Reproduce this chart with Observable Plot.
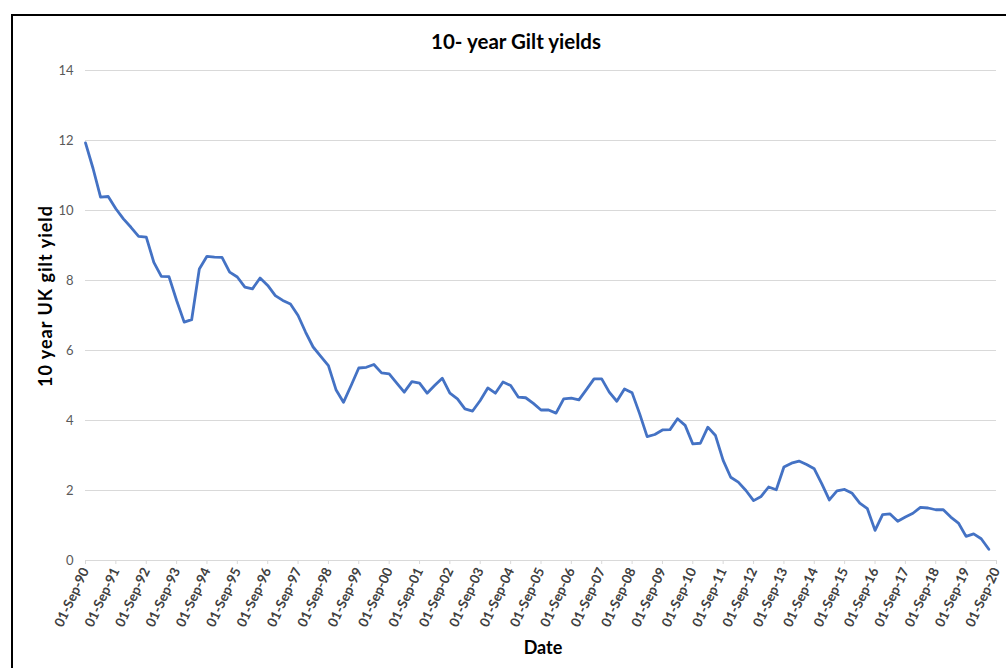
<!DOCTYPE html>
<html>
<head>
<meta charset="utf-8">
<script src="https://cdn.jsdelivr.net/npm/d3@7"></script>
<script src="https://cdn.jsdelivr.net/npm/@observablehq/plot@0.6"></script>
<style>
  html, body { margin: 0; padding: 0; background: #fff; }
  #page { position: relative; width: 1006px; height: 668px; overflow: hidden; font-family: Lato, "Open Sans", sans-serif; }
  #frame { position: absolute; left: 11px; top: 14px; width: 1100px; height: 700px;
           border-left: 2px solid #000; border-top: 2px solid #000; box-sizing: border-box; }
  #chart { position: absolute; left: 0; top: 0; }
  .title { position: absolute; left: 516px; top: 29px; transform: translateX(-50%);
           font-weight: bold; font-size: 20.5px; color: #000; white-space: nowrap; }
  .xlabel { position: absolute; left: 543px; top: 636px; transform: translateX(-50%);
            font-weight: bold; font-size: 18px; color: #000; white-space: nowrap; }
  .ylabel { position: absolute; left: 45px; top: 296px; transform: translate(-50%, -50%) rotate(-90deg);
            font-weight: bold; font-size: 18px; letter-spacing: 1px; color: #000; white-space: nowrap; }
</style>
</head>
<body>
<div id="page">
  <div id="frame"></div>
  <div id="chart"></div>
  <div class="title">10- year Gilt yields</div>
  <div class="ylabel">10 year UK gilt yield</div>
  <div class="xlabel">Date</div>
</div>
<script>
// Quarterly 10-year UK gilt yields (%), first observation 01-Sep-1990, one value every three months
const firstDate = new Date(Date.UTC(1990, 8, 1));
const yields = [
  11.93, 11.2, 10.38, 10.4, 10.05, 9.76, 9.52, 9.26, 9.24, 8.52,
  8.12, 8.11, 7.43, 6.81, 6.88, 8.33, 8.69, 8.67, 8.66, 8.24,
  8.10, 7.81, 7.76, 8.07, 7.86, 7.57, 7.43, 7.33, 7.0, 6.52,
  6.10, 5.83, 5.57, 4.88, 4.52, 5.0, 5.50, 5.52, 5.6, 5.36,
  5.33, 5.07, 4.81, 5.11, 5.07, 4.78, 5.0, 5.21, 4.78, 4.62,
  4.33, 4.27, 4.57, 4.93, 4.78, 5.1, 5.0, 4.67, 4.65, 4.49,
  4.30, 4.30, 4.21, 4.62, 4.64, 4.59, 4.88, 5.19, 5.19, 4.81,
  4.55, 4.9, 4.79, 4.19, 3.54, 3.6, 3.73, 3.74, 4.05, 3.86,
  3.33, 3.35, 3.81, 3.57, 2.86, 2.38, 2.24, 2.0, 1.71, 1.83,
  2.1, 2.02, 2.67, 2.78, 2.84, 2.74, 2.62, 2.19, 1.73, 1.99,
  2.03, 1.92, 1.64, 1.48, 0.86, 1.31, 1.33, 1.12, 1.24, 1.35,
  1.52, 1.5, 1.45, 1.45, 1.24, 1.07, 0.69, 0.76, 0.62, 0.32
];

// Axis ticks: 01-Sep of every year 1990..2020, yields 0..14 in steps of 2
const tickYears = [1990, 1991, 1992, 1993, 1994, 1995, 1996, 1997, 1998, 1999, 2000,
  2001, 2002, 2003, 2004, 2005, 2006, 2007, 2008, 2009, 2010,
  2011, 2012, 2013, 2014, 2015, 2016, 2017, 2018, 2019, 2020];
const yTicks = [0, 2, 4, 6, 8, 10, 12, 14];

const tickDates = tickYears.map(y => new Date(Date.UTC(y, 8, 1)));
const series = yields.map((v, i) => ({date: d3.utcMonth.offset(firstDate, 3 * i), value: v}));

const chart = Plot.plot({
  width: 1006,
  height: 668,
  marginLeft: 85,
  marginRight: 10,
  marginTop: 70,
  marginBottom: 108,
  style: {fontFamily: "Lato, 'Open Sans', sans-serif", background: "transparent", overflow: "visible"},
  x: {type: "utc", domain: [tickDates[0], tickDates[tickDates.length - 1]]},
  y: {domain: [0, 14]},
  marks: [
    Plot.gridY(yTicks, {stroke: "#d9d9d9", strokeOpacity: 1, strokeWidth: 1}),
    Plot.axisY(yTicks, {tickSize: 0, tickPadding: 12, fontSize: 13, fill: "#595959", label: null}),
    Plot.ruleY([0], {stroke: "#d9d9d9", strokeWidth: 1}),
    Plot.axisX(tickDates, {
      tickSize: 4, stroke: "#d9d9d9", strokeOpacity: 1,
      tickRotate: -65, tickPadding: 4,
      tickFormat: d3.utcFormat("%d-%b-%y"),
      fontSize: 13.5, fontWeight: "bold", fill: "#404040", label: null
    }),
    Plot.lineY(series, {x: "date", y: "value", stroke: "#4472c4", strokeWidth: 2.8, strokeLinejoin: "round"})
  ]
});
document.getElementById("chart").append(chart);
</script>
</body>
</html>
